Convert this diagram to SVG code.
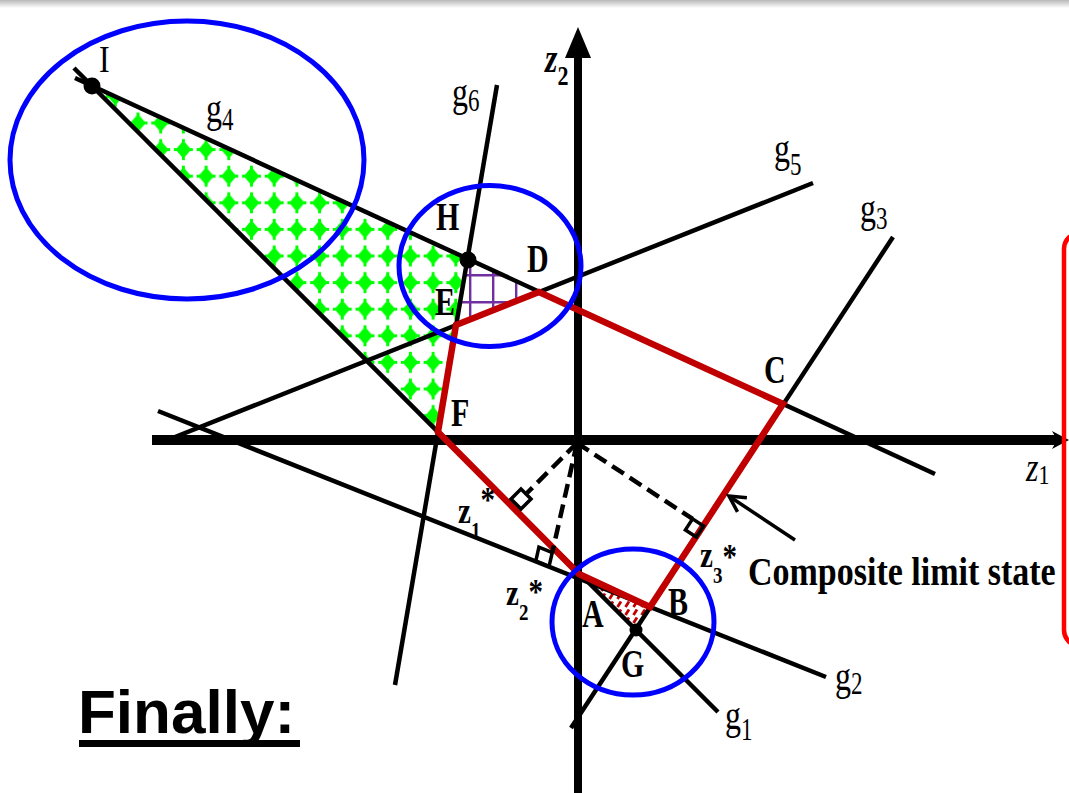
<svg xmlns="http://www.w3.org/2000/svg" width="1069" height="793" viewBox="0 0 1069 793">
<style>
.ln{stroke:#000;stroke-width:4.5;fill:none}
.ax{stroke:#000;fill:none}
.red{stroke:#C00000;stroke-width:6.5;fill:none;stroke-linejoin:miter}
.dash{stroke:#000;stroke-width:4.5;stroke-dasharray:14 7;fill:none}
.sq{stroke:#000;stroke-width:3.5;fill:none}
.blue{stroke:#0000FF;stroke-width:5;fill:none}
.rg{font-family:"Liberation Serif","Times New Roman",serif;font-size:32px;fill:#000}
.bd{font-family:"Liberation Serif","Times New Roman",serif;font-size:30px;font-weight:bold;fill:#000}
.zs{font-family:"Liberation Serif","Times New Roman",serif;font-size:29px;font-weight:bold;fill:#000}
.sub{font-size:23px}
</style>
<defs>
<linearGradient id="topbar" x1="0" y1="0" x2="0" y2="1">
<stop offset="0" stop-color="#b8b8b8"/><stop offset="1" stop-color="#ffffff"/>
</linearGradient>
<pattern id="grn" patternUnits="userSpaceOnUse" x="126.65" y="109.7" width="22.7" height="26.6">
<path d="M11.35,4.3 L19.1,13.3 L11.35,22.3 L3.6,13.3Z" fill="#00FF00"/>
<rect x="9.85" y="2.8" width="3" height="21" fill="#00FF00"/>
<rect x="1.85" y="11.8" width="19" height="3" fill="#00FF00"/>
</pattern>
<pattern id="pur" patternUnits="userSpaceOnUse" x="469" y="274" width="23" height="27">
<path d="M1,0V27M0,1H23" stroke="#7030A0" stroke-width="2.8" fill="none"/>
</pattern>
<pattern id="hatch" patternUnits="userSpaceOnUse" width="8" height="8">
<path d="M1.5,7 L5,1.5" stroke="#C00000" stroke-width="2.8"/>
</pattern>
</defs>

<rect x="0" y="0" width="1069" height="793" fill="#fff"/>
<rect x="0" y="0" width="1069" height="8" fill="url(#topbar)"/>

<g id="regions">
<polygon points="92,86 468,260 438,432" fill="url(#grn)"/>
<polygon points="468,260 539,292 456,325" fill="url(#pur)"/>
<polygon points="579,574 650,607 636,630" fill="url(#hatch)"/>
</g>

<g id="axes">
<line class="ax" x1="152" y1="440" x2="1058" y2="440" stroke-width="10"/>
<polygon points="1069,440 1052,431 1057,440 1052,449" fill="#000"/>
<line class="ax" x1="578" y1="793" x2="578" y2="56" stroke-width="8"/>
<polygon points="578,27 565,58 591,58" fill="#000"/>
</g>

<g id="connectors">
<line id="g1" class="ln" x1="74" y1="68" x2="718" y2="712"/>
<line id="g2" class="ln" x1="158" y1="411" x2="826" y2="677"/>
<line id="g3" class="ln" x1="893" y1="237" x2="571" y2="728"/>
<line id="g4" class="ln" x1="75" y1="78" x2="935" y2="474"/>
<line id="g5" class="ln" x1="160" y1="443" x2="813" y2="183"/>
<line id="g6" class="ln" x1="497" y1="85" x2="395" y2="685"/>
<polygon id="composite" class="red" points="579,574 650,607 783,404 539,292 456,325 438,432"/>
<line class="dash" x1="577" y1="443" x2="527" y2="493"/>
<line class="dash" x1="577" y1="443" x2="552.3" y2="552.5"/>
<line class="dash" x1="577" y1="443" x2="692.6" y2="518.9"/>
<polygon class="sq" points="511,499 521,489 531,499 521,509"/>
<polygon class="sq" points="549,566.6 552.3,552.5 538.9,547.2 535.8,561.2"/>
<polygon class="sq" points="703.5,526 692.6,518.9 685.4,529.9 696.3,537"/>
<line x1="795" y1="540" x2="731" y2="497.5" stroke="#000" stroke-width="3.5"/>
<polyline points="737.5,511.8 729,496 746.9,497.8" stroke="#000" stroke-width="3.5" fill="none" stroke-linejoin="miter"/>
</g>

<g id="circles">
<ellipse class="blue" cx="187" cy="160" rx="177" ry="139"/>
<ellipse class="blue" cx="490" cy="266" rx="91" ry="80.5"/>
<ellipse class="blue" cx="633" cy="622" rx="81" ry="73"/>
</g>

<g id="dots">
<circle id="I" cx="92" cy="86" r="8.5"/>
<circle id="H" cx="468" cy="260" r="8.5"/>
<circle id="G" cx="636" cy="630" r="6.5"/>
</g>

<rect id="box" x="1064" y="233" width="60" height="413" rx="16" fill="none" stroke="#FF0000" stroke-width="4.5"/>

<g id="labels">
<text class="rg" transform="translate(99,72) scale(1,1.2)">I</text>
<text class="rg" transform="translate(206,122) scale(1,1.35)">g<tspan class="sub" dy="5.7">4</tspan></text>
<text class="rg" transform="translate(452,106) scale(1,1.35)">g<tspan class="sub" dy="4">6</tspan></text>
<text class="rg" transform="translate(774,162) scale(1,1.35)">g<tspan class="sub" dy="9.5">5</tspan></text>
<text class="rg" transform="translate(860,222) scale(1,1.35)">g<tspan class="sub" dy="5">3</tspan></text>
<text class="rg" transform="translate(835,690) scale(1,1.35)">g<tspan class="sub" dy="3">2</tspan></text>
<text class="rg" transform="translate(725,729) scale(1,1.35)">g<tspan class="sub" dy="8">1</tspan></text>
<text class="rg" transform="translate(545,72) scale(1,1.22)" style="font-size:32px;font-weight:bold;font-style:italic">z<tspan style="font-size:22px;font-style:normal" dy="10.6">2</tspan></text>
<text class="rg" transform="translate(1026,481) scale(1,1.22)" style="font-size:32px;font-style:italic">z<tspan style="font-size:22px;font-style:normal" dy="2.4">1</tspan></text>
<text class="bd" transform="translate(436,230) scale(1,1.3)">H</text>
<text class="bd" transform="translate(527,272) scale(1,1.3)">D</text>
<text class="bd" transform="translate(435,315) scale(1,1.3)">E</text>
<text class="bd" transform="translate(764,383) scale(1,1.3)">C</text>
<text class="bd" transform="translate(451,426) scale(1,1.3)">F</text>
<text class="bd" transform="translate(582,627) scale(1,1.3)">A</text>
<text class="bd" transform="translate(668,615) scale(1,1.3)">B</text>
<text class="bd" transform="translate(621,677) scale(1,1.3)">G</text>
<text class="zs" transform="translate(458,523) scale(1,1.25)">z<tspan style="font-size:19px" dy="12">1</tspan><tspan dy="-21">*</tspan></text>
<text class="zs" transform="translate(506,605) scale(1,1.25)">z<tspan style="font-size:19px" dy="12">2</tspan><tspan dy="-12.8">*</tspan></text>
<text class="zs" transform="translate(700,567) scale(1,1.25)">z<tspan style="font-size:19px" dy="12.8">3</tspan><tspan dy="-11.2">*</tspan></text>
<text transform="translate(748,585) scale(1,1.15)" style="font-family:'Liberation Serif','Times New Roman',serif;font-size:34px;font-weight:bold">Composite limit state</text>
<text x="78" y="733" style="font-family:'Liberation Sans',Arial,sans-serif;font-size:62px;font-weight:bold">Finally:</text>
<rect x="79" y="740" width="221" height="7" fill="#000"/>
</g>
</svg>
